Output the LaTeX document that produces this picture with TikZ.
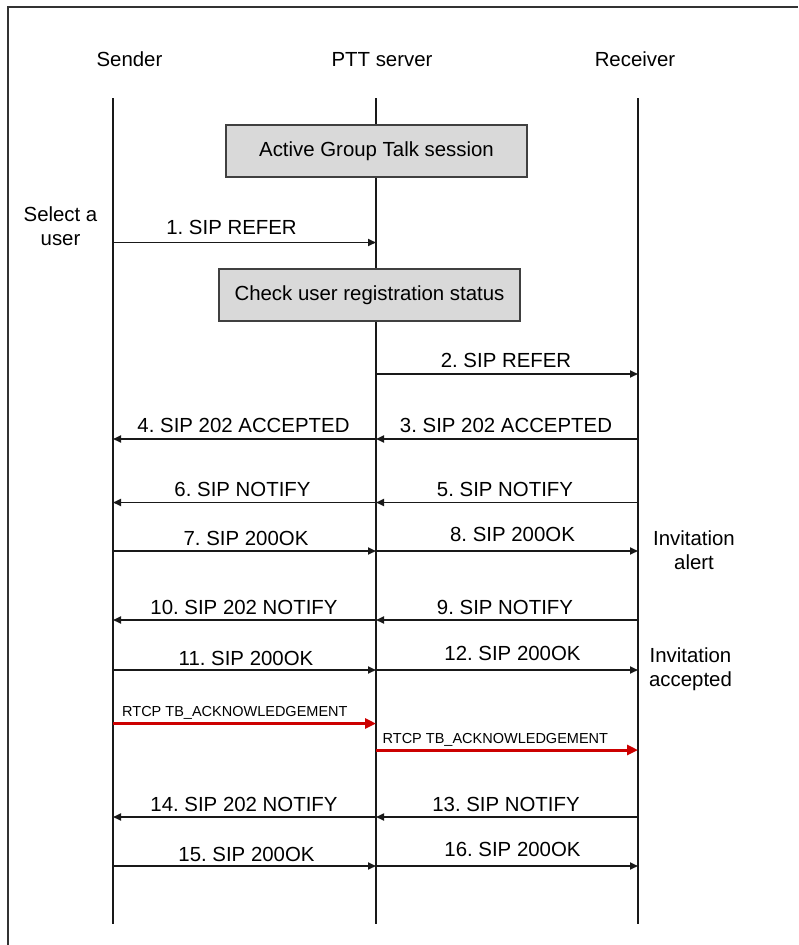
\documentclass[tikz,border=0pt]{standalone}
\usepackage{fontspec}
\setmainfont{Liberation Sans}
\frenchspacing
\usetikzlibrary{arrows.meta}
\definecolor{stateGray}{RGB}{217,217,217}
\definecolor{ackRed}{RGB}{204,0,0}
\tikzset{
    >={Triangle[length=8pt,width=7pt]},
    frame/.style={draw=black!80,line width=1.8pt},
    life/.style={draw=black!90,line width=1.7pt},
    msg/.style={->,draw=black!90,line width=1.7pt},
    ack/.style={-{Triangle[length=11pt,width=10pt]},draw=ackRed,line width=3pt},
    hdr/.style={font=\fontsize{20.4}{24}\selectfont,anchor=base,inner sep=0pt},
    lbl/.style={font=\fontsize{20.4}{24}\selectfont,anchor=base,inner sep=0pt},
    acklbl/.style={font=\fontsize{14.5}{17}\selectfont,anchor=base west,inner sep=0pt},
    state/.style={draw=black!75,fill=stateGray,line width=1.6pt,minimum width=301pt,minimum height=52pt,font=\fontsize{20.4}{24}\selectfont},
    note/.style={align=center,font=\fontsize{20.4}{24}\selectfont,inner sep=0pt}
}

\begin{document}
\begin{tikzpicture}[x=1pt,y=-1pt]
  \useasboundingbox (0,0) rectangle (798,945);
  \draw[frame] (8,945) -- (8,7) -- (798,7);

  \node[hdr] (snd) at (129.5,66) {Sender};
  \node[hdr] (ptt) at (382,66) {PTT server};
  \node[hdr] (rcv) at (635,66) {Receiver};

  \coordinate (s0) at (113,98);  \coordinate (s1) at (113,924);
  \coordinate (p0) at (376,98);  \coordinate (p1) at (376,924);
  \coordinate (r0) at (638,98);  \coordinate (r1) at (638,924);
  \draw[life] (s0) -- (s1);
  \draw[life] (p0) -- (p1);
  \draw[life] (r0) -- (r1);

  \node[state] (gts) at (376.5,151) {Active Group Talk session};
  \node[state] (reg) at (369.5,295) {Check user registration status};

  \node[note] (sel) at (60.5,226) {Select a\\user};
  \node[note] (alr) at (694,550.5) {Invitation\\alert};
  \node[note] (acc) at (690.5,669.5) {Invitation\\accepted};

  \coordinate (m1) at (0,242.5);
  \coordinate (m2) at (0,374);
  \coordinate (m3) at (0,439);
  \coordinate (m5) at (0,502.5);
  \coordinate (m7) at (0,551);
  \coordinate (m9) at (0,620);
  \coordinate (m11) at (0,670);
  \coordinate (ma) at (0,723.5);
  \coordinate (mb) at (0,750);
  \coordinate (m13) at (0,817);
  \coordinate (m15) at (0,866);

  \draw[msg] (s0 |- m1) -- (p0 |- m1);
  \draw[msg] (p0 |- m2) -- (r0 |- m2);
  \draw[msg] (r0 |- m3) -- (p0 |- m3);
  \draw[msg] (p0 |- m3) -- (s0 |- m3);
  \draw[msg] (r0 |- m5) -- (p0 |- m5);
  \draw[msg] (p0 |- m5) -- (s0 |- m5);
  \draw[msg] (s0 |- m7) -- (p0 |- m7);
  \draw[msg] (p0 |- m7) -- (r0 |- m7);
  \draw[msg] (r0 |- m9) -- (p0 |- m9);
  \draw[msg] (p0 |- m9) -- (s0 |- m9);
  \draw[msg] (s0 |- m11) -- (p0 |- m11);
  \draw[msg] (p0 |- m11) -- (r0 |- m11);
  \draw[ack] (s0 |- ma) -- (p0 |- ma);
  \draw[ack] (p0 |- mb) -- (r0 |- mb);
  \draw[msg] (r0 |- m13) -- (p0 |- m13);
  \draw[msg] (p0 |- m13) -- (s0 |- m13);
  \draw[msg] (s0 |- m15) -- (p0 |- m15);
  \draw[msg] (p0 |- m15) -- (r0 |- m15);

  \node[lbl] (l1) at (231.5,234.5) {1. SIP REFER};
  \node[lbl] (l2) at (506,367.5) {2. SIP REFER};
  \node[lbl] (l3) at (506,432.5) {3. SIP 202 ACCEPTED};
  \node[lbl] (l4) at (243.5,432.5) {4. SIP 202 ACCEPTED};
  \node[lbl] (l5) at (505,496.5) {5. SIP NOTIFY};
  \node[lbl] (l6) at (242.5,496.5) {6. SIP NOTIFY};
  \node[lbl] (l7) at (246,545) {7. SIP 200OK};
  \node[lbl] (l8) at (512.5,541.5) {8. SIP 200OK};
  \node[lbl] (l9) at (505,614) {9. SIP NOTIFY};
  \node[lbl] (l10) at (244,614) {10. SIP 202 NOTIFY};
  \node[lbl] (l11) at (246,665) {11. SIP 200OK};
  \node[lbl] (l12) at (512.5,660.5) {12. SIP 200OK};
  \node[acklbl] (la) at (122,716.5) {RTCP TB\_ACKNOWLEDGEMENT};
  \node[acklbl] (lb) at (382.5,743.5) {RTCP TB\_ACKNOWLEDGEMENT};
  \node[lbl] (l13) at (506,811.5) {13. SIP NOTIFY};
  \node[lbl] (l14) at (244,811.5) {14. SIP 202 NOTIFY};
  \node[lbl] (l15) at (246.5,861.5) {15. SIP 200OK};
  \node[lbl] (l16) at (512.5,856.5) {16. SIP 200OK};
\end{tikzpicture}
\end{document}
